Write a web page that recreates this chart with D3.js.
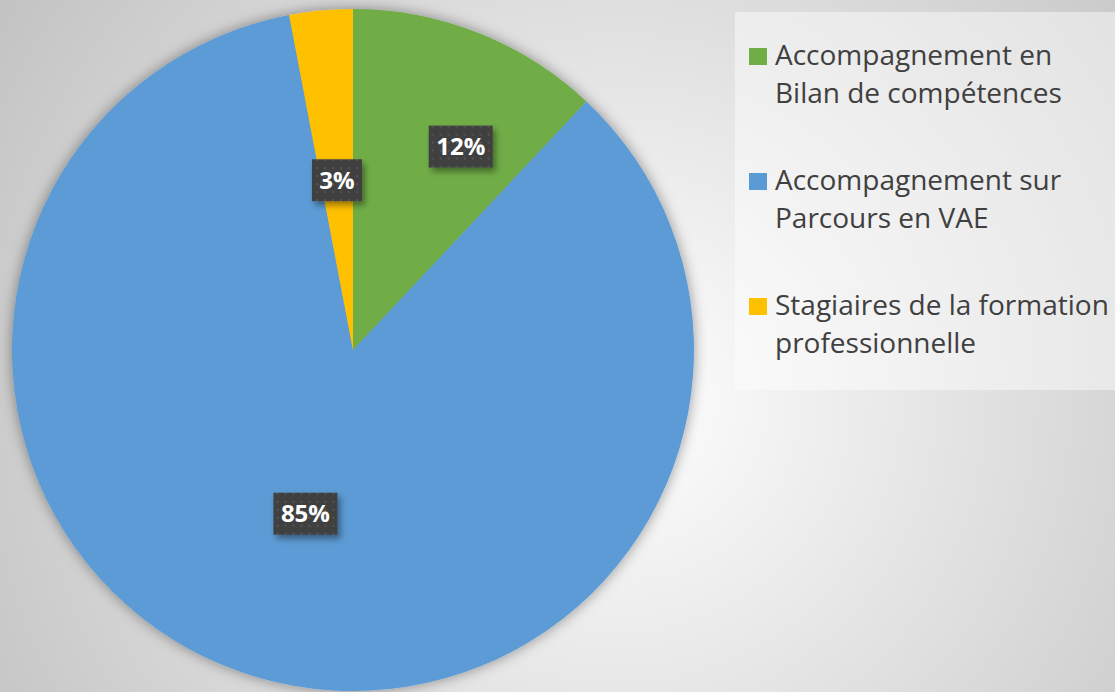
<!DOCTYPE html>
<html>
<head>
<meta charset="utf-8">
<script src="https://cdn.jsdelivr.net/npm/d3@7"></script>
<style>
  body { margin: 0; overflow: hidden; }
  text { font-family: "Open Sans", sans-serif; }
</style>
</head>
<body>
<div id="chart"></div>
<script>
// data
var categories = ["Accompagnement en Bilan de compétences", "Accompagnement sur Parcours en VAE", "Stagiaires de la formation professionnelle"];
var legendLines = [["Accompagnement en", "Bilan de compétences"], ["Accompagnement sur", "Parcours en VAE"], ["Stagiaires de la formation", "professionnelle"]];
var values = [12, 85, 3];
var colors = ["#70ad47", "#5b9bd5", "#ffc000"];

var width = 1115, height = 692;
var cx = 353, cy = 350, radius = 341;

var svg = d3.select("#chart").append("svg")
    .attr("width", width)
    .attr("height", height);

var defs = svg.append("defs");

// background radial gradient
var bg = defs.append("radialGradient")
    .attr("id", "bg")
    .attr("gradientUnits", "userSpaceOnUse")
    .attr("cx", 620).attr("cy", 400).attr("r", 720);
bg.append("stop").attr("offset", "0%").attr("stop-color", "#ffffff");
bg.append("stop").attr("offset", "100%").attr("stop-color", "#c4c4c4");

// soft shadow round the pie
var sh = defs.append("filter").attr("id", "pieShadow")
    .attr("x", "-10%").attr("y", "-10%").attr("width", "120%").attr("height", "120%");
sh.append("feDropShadow").attr("dx", 0).attr("dy", 0).attr("stdDeviation", 7)
    .attr("flood-color", "#000").attr("flood-opacity", 0.4);

// shadow for label boxes
var lsh = defs.append("filter").attr("id", "lblShadow")
    .attr("x", "-30%").attr("y", "-30%").attr("width", "160%").attr("height", "160%");
lsh.append("feDropShadow").attr("dx", 3).attr("dy", 4).attr("stdDeviation", 3)
    .attr("flood-color", "#000").attr("flood-opacity", 0.4);

// dotted pattern for label boxes
var pat = defs.append("pattern").attr("id", "dots")
    .attr("patternUnits", "userSpaceOnUse")
    .attr("width", 8).attr("height", 8);
pat.append("rect").attr("width", 8).attr("height", 8).attr("fill", "#404040");
pat.append("rect").attr("x", 3).attr("y", 3).attr("width", 2).attr("height", 2).attr("fill", "#555555");

svg.append("rect")
    .attr("width", width).attr("height", height)
    .attr("fill", "url(#bg)");

// legend box
svg.append("rect")
    .attr("x", 735).attr("y", 12)
    .attr("width", 380).attr("height", 378)
    .attr("fill", "#ffffff").attr("fill-opacity", 0.45);

var pie = d3.pie().sort(null).value(function(d) { return d; });
var arcs = pie(values);

var arc = d3.arc().innerRadius(0).outerRadius(radius);

var g = svg.append("g")
    .attr("transform", "translate(" + cx + "," + cy + ")");

g.append("g")
    .attr("filter", "url(#pieShadow)")
  .selectAll("path")
  .data(arcs)
  .enter()
  .append("path")
    .attr("d", arc)
    .attr("fill", function(d, i) { return colors[i]; });

// data labels (excel "best fit" moves the small green one a bit out)
function labelPos(d, i) {
  var a = (d.startAngle + d.endAngle) / 2;
  var r = radius * 0.5;
  if (i === 0) { a += 0.11; r = radius * 0.675; }
  return [r * Math.sin(a), -r * Math.cos(a)];
}

var labels = g.selectAll(".lbl")
  .data(arcs)
  .enter()
  .append("g")
    .attr("class", "lbl")
    .attr("transform", function(d, i) { var p = labelPos(d, i); return "translate(" + p[0] + "," + p[1] + ")"; });

labels.append("rect")
    .attr("x", function(d) { return d.data < 10 ? -25 : -32; })
    .attr("y", -21)
    .attr("width", function(d) { return d.data < 10 ? 50 : 64; })
    .attr("height", 42)
    .attr("fill", "url(#dots)")
    .attr("filter", "url(#lblShadow)");

labels.append("text")
    .attr("text-anchor", "middle")
    .attr("dy", "0.36em")
    .attr("fill", "#ffffff")
    .style("font-weight", "bold")
    .style("font-size", "24px")
    .text(function(d) { return d.data + "%"; });

// legend
var legend = svg.selectAll(".leg")
  .data(categories)
  .enter()
  .append("g")
    .attr("class", "leg")
    .attr("transform", function(d, i) { return "translate(749," + (65 + i * 125) + ")"; });

legend.append("rect")
    .attr("x", 0).attr("y", -17)
    .attr("width", 18).attr("height", 17)
    .attr("fill", function(d, i) { return colors[i]; });

legend.append("text")
    .attr("x", 26)
    .attr("fill", "#404040")
    .style("font-size", "28px")
  .selectAll("tspan")
  .data(function(d, i) { return legendLines[i]; })
  .enter()
  .append("tspan")
    .attr("x", 26)
    .attr("y", function(d, j) { return j * 38; })
    .text(function(d) { return d; });
</script>
</body>
</html>
